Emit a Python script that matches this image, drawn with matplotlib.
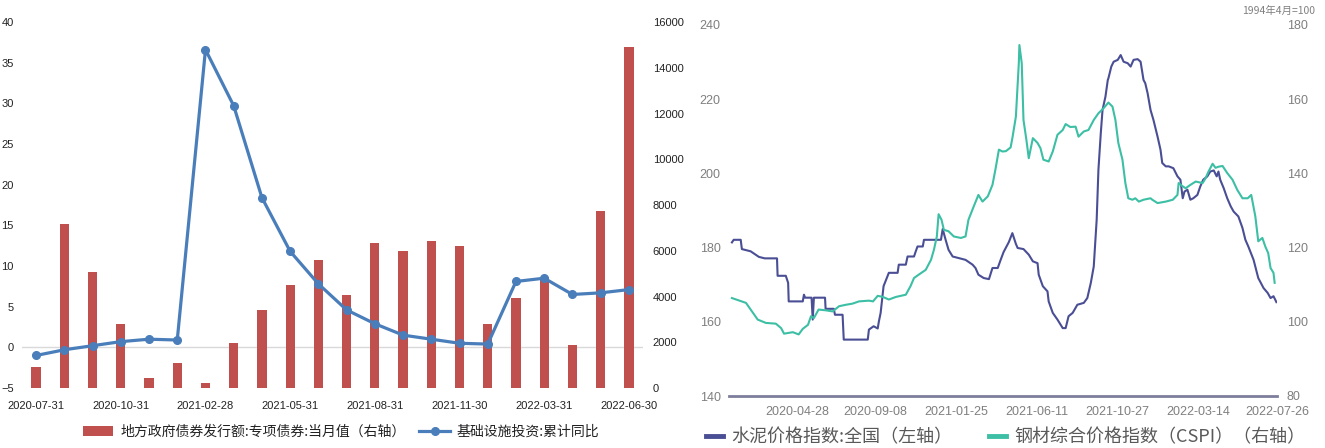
import numpy as np
import pandas as pd
import matplotlib
matplotlib.use("Agg")
import matplotlib.pyplot as plt
from matplotlib.lines import Line2D

plt.rcParams['font.family'] = ['Liberation Sans', 'Noto Sans CJK SC', 'DejaVu Sans']

# ---- left panel: monthly data ----
months = ['2020-07-31', '2020-08-31', '2020-09-30', '2020-10-31', '2020-11-30', '2020-12-31',
          '2021-02-28', '2021-03-31', '2021-04-30', '2021-05-31', '2021-06-30', '2021-07-31',
          '2021-08-31', '2021-09-30', '2021-10-31', '2021-11-30', '2021-12-31', '2022-02-28',
          '2022-03-31', '2022-04-30', '2022-05-31', '2022-06-30']
bond_issue = [920, 7180, 5060, 2815, 450, 1080, 220, 1955, 3415, 4495, 5590, 4055,
              6345, 5995, 6435, 6200, 2785, 3925, 4870, 1865, 7745, 14920]
infra_yoy = [-1.0, -0.3, 0.2, 0.7, 1.0, 0.9, 36.6, 29.7, 18.4, 11.8, 7.8, 4.6,
             2.9, 1.5, 1.0, 0.5, 0.4, 8.1, 8.5, 6.5, 6.7, 7.1]

# ---- right panel: price indices ----
cement_dates = ['2020-01-07', '2020-01-10', '2020-01-22', '2020-01-24', '2020-02-08', '2020-02-22',
                '2020-03-03', '2020-03-24', '2020-03-25', '2020-04-08', '2020-04-12', '2020-04-13',
                '2020-05-07', '2020-05-09', '2020-05-11', '2020-05-22', '2020-05-24', '2020-05-26',
                '2020-06-14', '2020-06-15', '2020-06-29', '2020-07-01', '2020-07-14', '2020-07-16',
                '2020-08-26', '2020-08-28', '2020-09-05', '2020-09-12', '2020-09-14', '2020-09-17',
                '2020-09-22', '2020-10-01', '2020-10-16', '2020-10-18', '2020-10-30', '2020-11-02',
                '2020-11-13', '2020-11-16', '2020-11-19', '2020-11-28', '2020-11-30', '2020-12-29',
                '2021-01-01', '2021-01-06', '2021-01-11', '2021-01-18', '2021-01-28', '2021-02-09',
                '2021-02-21', '2021-02-26', '2021-03-03', '2021-03-12', '2021-03-21', '2021-03-27',
                '2021-04-05', '2021-04-10', '2021-04-15', '2021-04-24', '2021-04-30', '2021-05-06',
                '2021-05-09', '2021-05-19', '2021-05-28', '2021-06-04', '2021-06-12', '2021-06-14',
                '2021-06-21', '2021-06-29', '2021-07-01', '2021-07-08', '2021-07-16', '2021-07-25',
                '2021-07-30', '2021-08-04', '2021-08-11', '2021-08-19', '2021-08-30', '2021-09-05',
                '2021-09-11', '2021-09-16', '2021-09-21', '2021-09-24', '2021-09-28', '2021-10-01',
                '2021-10-06', '2021-10-10', '2021-10-11', '2021-10-16', '2021-10-20', '2021-10-27',
                '2021-11-01', '2021-11-06', '2021-11-13', '2021-11-18', '2021-11-23', '2021-11-30',
                '2021-12-05', '2021-12-10', '2021-12-13', '2021-12-17', '2021-12-22', '2021-12-27',
                '2022-01-03', '2022-01-08', '2022-01-11', '2022-01-17', '2022-01-22', '2022-01-30',
                '2022-02-06', '2022-02-11', '2022-02-15', '2022-02-18', '2022-02-23', '2022-02-28',
                '2022-03-05', '2022-03-12', '2022-03-17', '2022-03-22', '2022-03-29', '2022-04-03',
                '2022-04-09', '2022-04-14', '2022-04-17', '2022-04-20', '2022-04-26', '2022-05-02',
                '2022-05-08', '2022-05-13', '2022-05-21', '2022-05-28', '2022-06-02', '2022-06-07',
                '2022-06-16', '2022-06-24', '2022-07-03', '2022-07-10', '2022-07-15', '2022-07-20',
                '2022-07-25']
cement_idx = [181.4, 182.1, 182.1, 179.6, 179.0, 177.5,
              177.1, 177.1, 172.4, 172.4, 170.5, 165.5,
              165.5, 167.3, 166.5, 166.5, 160.6, 166.5,
              166.5, 163.5, 163.5, 161.9, 161.9, 155.2,
              155.2, 157.9, 158.8, 158.2, 160.1, 162.4,
              169.6, 173.2, 173.2, 175.4, 175.4, 177.6,
              177.6, 179.0, 180.3, 180.3, 182.1, 182.1,
              185.0, 182.1, 179.4, 177.6, 177.2, 176.7,
              175.4, 174.5, 172.7, 171.8, 171.5, 174.5,
              174.5, 176.7, 178.8, 181.5, 183.9, 181.0,
              179.9, 179.6, 178.1, 176.3, 175.8, 172.7,
              169.6, 168.2, 165.5, 162.4, 160.6, 158.3,
              158.3, 161.5, 162.4, 164.6, 165.1, 166.4,
              170.5, 174.9, 187.5, 201.0, 210.8, 217.1,
              220.7, 225.2, 225.6, 228.8, 230.1, 230.6,
              231.9, 230.1, 229.7, 228.8, 230.6, 230.8,
              230.1, 225.2, 224.3, 221.6, 217.1, 214.4,
              209.9, 206.4, 202.8, 201.9, 201.9, 201.4,
              199.2, 198.3, 193.3, 195.1, 195.6, 192.9,
              193.3, 194.2, 196.5, 198.3, 199.2, 200.5,
              200.8, 199.2, 200.5, 198.3, 196.0, 193.3,
              191.1, 189.7, 188.4, 185.3, 182.1, 180.3,
              176.7, 171.8, 169.1, 167.8, 166.4, 166.9,
              165.3]

steel_dates = ['2020-01-07', '2020-01-31', '2020-02-08', '2020-02-20', '2020-03-05', '2020-03-22',
               '2020-03-31', '2020-04-05', '2020-04-20', '2020-04-30', '2020-05-07', '2020-05-16',
               '2020-05-21', '2020-05-26', '2020-06-03', '2020-06-15', '2020-06-27', '2020-07-08',
               '2020-07-20', '2020-07-31', '2020-08-11', '2020-08-28', '2020-09-04', '2020-09-12',
               '2020-09-21', '2020-10-01', '2020-10-13', '2020-10-30', '2020-11-07', '2020-11-13',
               '2020-11-21', '2020-12-03', '2020-12-12', '2020-12-17', '2020-12-22', '2020-12-25',
               '2020-12-30', '2021-01-03', '2021-01-11', '2021-01-20', '2021-02-01', '2021-02-09',
               '2021-02-14', '2021-02-23', '2021-03-03', '2021-03-10', '2021-03-19', '2021-03-27',
               '2021-04-01', '2021-04-07', '2021-04-13', '2021-04-19', '2021-04-27', '2021-04-30',
               '2021-05-06', '2021-05-11', '2021-05-12', '2021-05-16', '2021-05-19', '2021-05-24',
               '2021-05-28', '2021-06-04', '2021-06-12', '2021-06-17', '2021-06-22', '2021-07-01',
               '2021-07-08', '2021-07-16', '2021-07-25', '2021-07-30', '2021-08-07', '2021-08-16',
               '2021-08-21', '2021-08-30', '2021-09-07', '2021-09-16', '2021-09-24', '2021-10-03',
               '2021-10-11', '2021-10-18', '2021-10-23', '2021-10-28', '2021-11-04', '2021-11-09',
               '2021-11-14', '2021-11-21', '2021-11-26', '2021-12-02', '2021-12-10', '2021-12-22',
               '2021-12-25', '2022-01-03', '2022-01-17', '2022-01-29', '2022-02-06', '2022-02-08',
               '2022-02-15', '2022-02-20', '2022-02-28', '2022-03-09', '2022-03-21', '2022-03-26',
               '2022-03-31', '2022-04-07', '2022-04-12', '2022-04-17', '2022-04-24', '2022-05-02',
               '2022-05-11', '2022-05-19', '2022-05-28', '2022-06-06', '2022-06-12', '2022-06-19',
               '2022-06-24', '2022-07-01', '2022-07-06', '2022-07-11', '2022-07-15', '2022-07-20',
               '2022-07-22']
steel_idx = [106.4, 105.1, 103.3, 100.6, 99.7, 99.5,
             98.3, 96.8, 97.2, 96.6, 98.1, 99.2,
             101.5, 101.0, 103.3, 103.1, 102.8, 104.2,
             104.6, 104.9, 105.5, 105.7, 105.5, 107.0,
             106.7, 106.0, 106.7, 107.3, 109.6, 111.8,
             112.7, 114.0, 116.7, 119.4, 123.0, 129.0,
             127.5, 124.8, 124.4, 123.0, 122.6, 123.0,
             127.5, 131.1, 134.2, 132.4, 133.8, 136.9,
             141.0, 146.4, 145.9, 146.0, 147.0, 149.5,
             155.3, 169.7, 174.6, 169.7, 154.4, 149.0,
             144.1, 149.5, 148.2, 146.8, 143.7, 143.2,
             145.9, 150.4, 151.7, 153.3, 152.5, 152.6,
             149.9, 151.3, 151.7, 154.4, 156.2, 157.6,
             159.1, 158.0, 154.4, 148.2, 143.7, 137.4,
             133.3, 132.9, 133.3, 132.4, 132.9, 133.3,
             132.9, 132.0, 132.4, 132.9, 134.2, 137.4,
             136.5, 136.0, 136.9, 137.8, 137.4, 138.7,
             140.5, 142.6, 141.5, 141.8, 142.0, 140.1,
             138.3, 135.6, 133.3, 133.3, 134.2, 128.4,
             121.7, 122.6, 120.3, 118.5, 114.5, 113.2,
             110.5]
right_ticks = ['2020-04-28', '2020-09-08', '2021-01-25', '2021-06-11',
               '2021-10-27', '2022-03-14', '2022-07-26']

narrow = ['Liberation Sans Narrow', 'Liberation Sans', 'DejaVu Sans']
cjk = ['Noto Sans CJK SC', 'DejaVu Sans']

fig = plt.figure(figsize=(13.25, 4.48), dpi=100)

# ================= left chart =================
ax = fig.add_axes([22/1325, 1-388/448, 621/1325, 366/448])
ax2 = ax.twinx()
x = np.arange(len(months))
bars = ax2.bar(x, bond_issue, width=0.33, color='#C0504D',
               label='地方政府债券发行额:专项债券:当月值（右轴）')
ax2.axhline(16000 * 5 / 45, color='#d9d9d9', lw=1, zorder=0)
line, = ax.plot(x, infra_yoy, color='#4A7EBB', lw=2.3, marker='o', ms=5.5,
                label='基础设施投资:累计同比')
ax.set_zorder(ax2.get_zorder() + 1)
ax.patch.set_visible(False)

ax.set_xlim(-0.5, len(months) - 0.5)
ax.set_ylim(-5, 40)
ax2.set_ylim(0, 16000)
ax.set_yticks(range(-5, 41, 5))
ax2.set_yticks(range(0, 16001, 2000))
ax.set_xticks(x[::3])
ax.set_xticklabels(months[::3])
for a in (ax, ax2):
    for s in a.spines.values():
        s.set_visible(False)
    a.tick_params(length=0, labelsize=8, colors='#222222')
    for t in a.get_xticklabels() + a.get_yticklabels():
        t.set_family(narrow)
ax.tick_params(axis='y', pad=6)
ax2.tick_params(axis='y', pad=7)
ax.tick_params(axis='x', pad=9)

fig.legend(handles=[bars, line], loc='center', bbox_to_anchor=(341/1325, 1-432/448),
           ncol=2, frameon=False, prop={'family': cjk, 'size': 10},
           handlelength=2.2, handletextpad=0.5, columnspacing=1.0, labelcolor='#222222')

# ================= right chart =================
axr = fig.add_axes([729/1325, 1-396/448, 548/1325, 371/448])
axr2 = axr.twinx()
c_line, = axr.plot(pd.to_datetime(cement_dates), cement_idx, color='#4A4E94', lw=1.5)
s_line, = axr2.plot(pd.to_datetime(steel_dates), steel_idx, color='#3CBFA4', lw=1.5)
axr.set_ylim(140, 240)
axr2.set_ylim(80, 180)
axr.set_yticks(range(140, 241, 20))
axr2.set_yticks(range(80, 181, 20))
axr.set_xlim(pd.Timestamp('2020-01-02'), pd.Timestamp('2022-07-26'))
axr.set_xticks(pd.to_datetime(right_ticks))
axr.set_xticklabels(right_ticks)
for a in (axr, axr2):
    for s in a.spines.values():
        s.set_visible(False)
    a.tick_params(length=0, labelsize=9, colors='#7f7f7f')
axr.spines['bottom'].set_visible(True)
axr.spines['bottom'].set_color('#7d7d9c')
axr.spines['bottom'].set_linewidth(2)
axr.tick_params(axis='y', pad=6)
axr2.tick_params(axis='y', pad=7)
axr.tick_params(axis='x', pad=7)

fig.text(1315/1325, 1-11/448, '1994年4月=100', ha='right', va='center',
         fontsize=7.5, color='#808080', family=cjk)

h1 = Line2D([], [], color='#4A4E94', lw=3.5)
h2 = Line2D([], [], color='#3CBFA4', lw=3.5)
fig.legend(handles=[h1, h2], labels=['水泥价格指数:全国（左轴）', '钢材综合价格指数（CSPI）（右轴）'],
           loc='center left', bbox_to_anchor=(690/1325, 1-437/448), ncol=2, frameon=False,
           prop={'family': cjk, 'size': 13}, handlelength=0.95, handletextpad=0.45,
           columnspacing=2.0, labelcolor='#595959')

fig.savefig('out.png', dpi=100)
